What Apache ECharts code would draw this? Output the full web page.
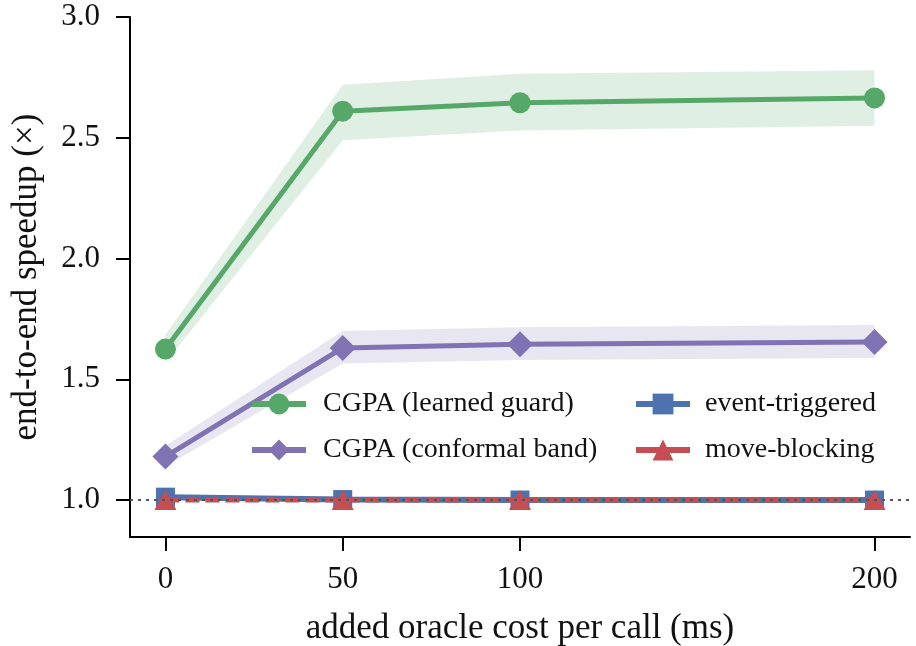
<!DOCTYPE html>
<html>
<head>
<meta charset="utf-8">
<script src="https://cdn.jsdelivr.net/npm/echarts@6/dist/echarts.min.js"></script>
<style>
  html, body { margin: 0; padding: 0; background: #fff; }
  #chart { width: 916px; height: 646px; }
</style>
</head>
<body>
<div id="chart"></div>
<script>
// oracle cost (ms)
var costs = [0, 50, 100, 200];

var guardMean = [1.625, 2.61, 2.645, 2.665];
var guardLo = [1.57, 2.49, 2.53, 2.55];
var guardHi = [1.685, 2.72, 2.765, 2.78];

var confMean = [1.18, 1.63, 1.645, 1.654];
var confLo = [1.14, 1.565, 1.58, 1.588];
var confHi = [1.225, 1.70, 1.715, 1.725];

var eventTrig = [1.012, 1.002, 1.0, 1.0];
var moveBlock = [1.0, 1.0, 1.0, 1.0];

var yTicks = [1.0, 1.5, 2.0, 2.5, 3.0];
var xTicks = [0, 50, 100, 200];

var FONT = '"Liberation Serif", "Times New Roman", serif';

function pairs(ys) {
	var out = [];
	for(var i = 0; i < ys.length; i++) out.push([costs[i], ys[i]]);
	return out;
}

// one polygon per segment between neighbouring points
function segments(lo, hi) {
	var out = [];
	for(var i = 0; i < lo.length - 1; i++)
		out.push([costs[i], lo[i], hi[i], costs[i + 1], lo[i + 1], hi[i + 1]]);
	return out;
}

function bandItem(params, api) {
	var a = api.coord([api.value(0), api.value(1)]);
	var b = api.coord([api.value(3), api.value(4)]);
	var c = api.coord([api.value(3), api.value(5)]);
	var d = api.coord([api.value(0), api.value(2)]);
	return {
		type: 'polygon',
		shape: { points: [a, b, c, d] },
		style: { fill: api.visual('color') }
	};
}

function band(lo, hi, color) {
	return {
		type: 'custom',
		renderItem: bandItem,
		data: segments(lo, hi),
		encode: { x: [0, 3], y: [1, 2, 4, 5] },
		itemStyle: { color: color },
		silent: true,
		z: 1
	};
}

var chart = echarts.init(document.getElementById('chart'));

var series = [];
series.push(band(guardLo, guardHi, 'rgba(85,168,104,0.18)'));
series.push(band(confLo, confHi, 'rgba(129,114,179,0.18)'));
series.push({
	name: 'CGPA (learned guard)',
	type: 'line',
	data: pairs(guardMean),
	symbol: 'circle',
	symbolSize: 21,
	color: '#55A868',
	lineStyle: { width: 5 },
	z: 3
});
series.push({
	name: 'CGPA (conformal band)',
	type: 'line',
	data: pairs(confMean),
	symbol: 'diamond',
	symbolSize: [26, 26],
	color: '#8172B3',
	lineStyle: { width: 5 },
	z: 3
});
series.push({
	name: 'event-triggered',
	type: 'line',
	data: pairs(eventTrig),
	symbol: 'rect',
	symbolSize: 19,
	color: '#4C72B0',
	lineStyle: { width: 6 },
	z: 3
});
series.push({
	name: 'move-blocking',
	type: 'line',
	data: pairs(moveBlock),
	symbol: 'triangle',
	symbolSize: [22, 20],
	color: '#C44E52',
	lineStyle: { width: 5, type: [14, 6] },
	z: 4,
	markLine: {
		silent: true,
		symbol: 'none',
		label: { show: false },
		lineStyle: { color: '#555', width: 2, type: [3, 5] },
		data: [{ yAxis: 1.0 }],
		z: 6
	}
});

function legendCfg(names, left, pad) {
	return {
		data: names,
		orient: 'vertical',
		left: left,
		top: 385,
		itemWidth: 54,
		itemHeight: 26,
		itemGap: 18,
		lineStyle: { width: 6, type: 'solid' },
		textStyle: { fontFamily: FONT, fontSize: 28, color: '#111', padding: [0, 0, 0, pad] }
	};
}

var option = {
	animation: false,
	backgroundColor: '#fff',
	textStyle: { fontFamily: FONT },
	grid: { left: 130, right: 6, top: 17, bottom: 109, outerBoundsMode: 'none', containLabel: false },
	legend: [
		legendCfg(['CGPA (learned guard)', 'CGPA (conformal band)'], 244, 12),
		legendCfg(['event-triggered', 'move-blocking'], 628, 10)
	],
	xAxis: {
		type: 'value',
		min: -10,
		max: 210,
		name: 'added oracle cost per call (ms)',
		nameLocation: 'middle',
		nameGap: 74,
		nameTextStyle: { fontFamily: FONT, fontSize: 35, color: '#111' },
		splitLine: { show: false },
		axisLine: { onZero: false, lineStyle: { color: '#000', width: 2 } },
		axisTick: { customValues: xTicks, length: 14, lineStyle: { width: 2, color: '#000' } },
		axisLabel: { customValues: xTicks, fontFamily: FONT, fontSize: 31, color: '#111', margin: 27 }
	},
	yAxis: {
		type: 'value',
		min: 0.847,
		max: 3.0,
		name: 'end-to-end speedup (×)',
		nameLocation: 'middle',
		nameGap: 86,
		nameTextStyle: { fontFamily: FONT, fontSize: 35, color: '#111' },
		splitLine: { show: false },
		axisLine: { show: true, onZero: false, lineStyle: { color: '#000', width: 2 } },
		axisTick: { show: true, customValues: yTicks, length: 14, lineStyle: { width: 2, color: '#000' } },
		axisLabel: {
			customValues: yTicks,
			fontFamily: FONT,
			fontSize: 31,
			color: '#111',
			margin: 30,
			formatter: function(v) { return v.toFixed(1); }
		}
	},
	series: series
};

chart.setOption(option);
</script>
</body>
</html>
